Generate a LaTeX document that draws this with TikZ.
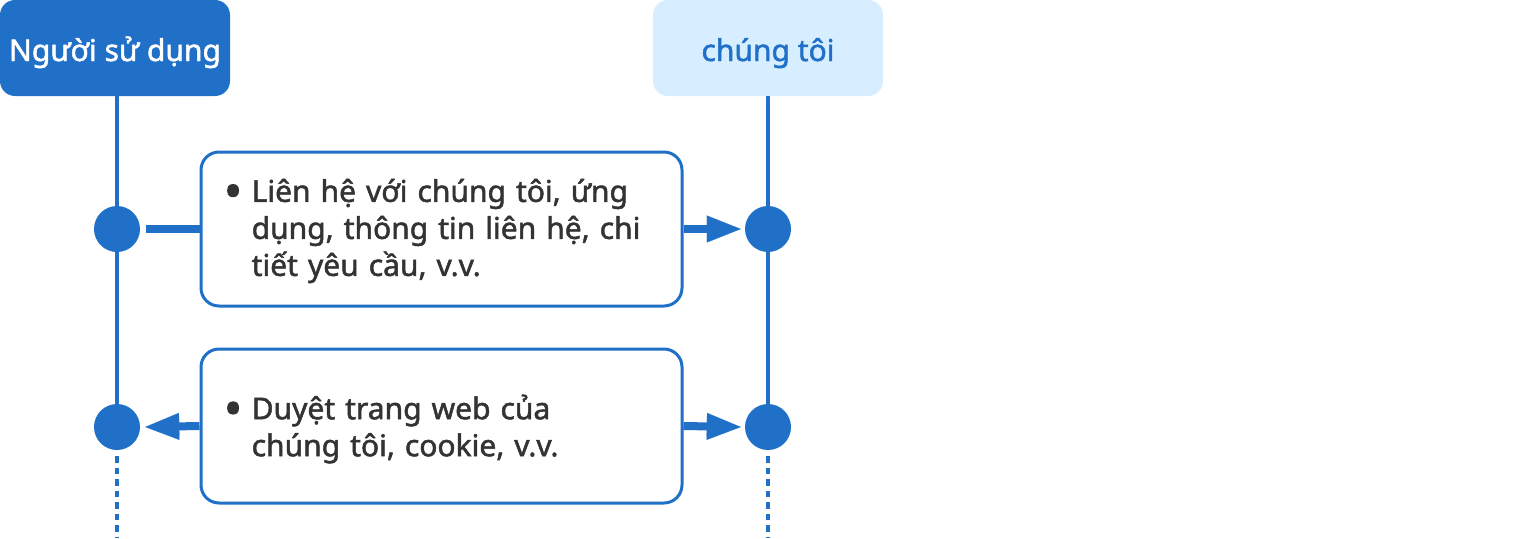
\documentclass[tikz,border=0pt]{standalone}
\usepackage{fontspec}
\setmainfont{Noto Sans}[RawFeature={embolden=1.6}]
\usetikzlibrary{arrows.meta}
\definecolor{mblue}{HTML}{2070C8}
\definecolor{lblue}{HTML}{D6EEFF}
\definecolor{tgray}{HTML}{333333}
\newcommand{\bul}{\makebox[28pt][l]{\raisebox{-7pt}{\fontsize{50}{37}\selectfont •}}}
\tikzset{
  hdr/.style={rectangle, rounded corners=15pt, minimum width=230pt, minimum height=96pt, inner sep=0pt, text height=26pt, text depth=0pt, font=\fontsize{30}{36}\selectfont},
  dotnode/.style={circle, fill=mblue, minimum size=46pt, inner sep=0pt},
  msg/.style={rectangle, draw=mblue, line width=3pt, rounded corners=18pt, fill=white, minimum width=481pt, minimum height=154pt, inner sep=0pt},
  txt/.style={inner sep=0pt, text width=450pt, text=tgray, font=\fontsize{30}{37}\selectfont},
  life/.style={draw=mblue, line width=3.5pt},
  lifedot/.style={draw=mblue, line width=3.5pt, dash pattern=on 6.5pt off 5pt},
  conn/.style={draw=mblue, line width=8pt},
  tip/.style={-{Triangle[length=34pt,width=27pt,line width=0.1pt]}}
}
\begin{document}
\begin{tikzpicture}[x=1pt,y=-1pt]
\useasboundingbox (0,0) rectangle (1536,538);
\node[hdr, fill=mblue, text=white] (u) at (115,48) {Người sử dụng};
\node[hdr, fill=lblue, text=mblue] (w) at (768,48) {chúng tôi};
\node[dotnode] (d1) at (117,229) {};
\node[dotnode] (d2) at (768,229) {};
\node[dotnode] (d3) at (117,427) {};
\node[dotnode] (d4) at (768,427) {};
\coordinate (e1) at (117,538);
\coordinate (e2) at (768,538);
% lifelines
\draw[life] (d1 |- u.south) -- (d1) -- (d3);
\draw[life] (d2 |- w.south) -- (d2) -- (d4);
\draw[lifedot] ([yshift=-6pt]d3.south) -- (e1);
\draw[lifedot] ([yshift=-6pt]d4.south) -- (e2);
% message boxes
\node[msg] (b1) at (441.5,229) {};
\node[msg] (b2) at (441.5,426) {};
\node[txt, anchor=west] (t1) at ([xshift=24pt,yshift=-2pt]b1.west) {\hangindent=28pt\hangafter=1\noindent\bul Liên hệ với chúng tôi, ứng\newline dụng, thông tin liên hệ, chi\newline tiết yêu cầu, v.v.\par};
\node[txt, anchor=west] (t2) at ([xshift=24pt,yshift=-3pt]b2.west) {\hangindent=28pt\hangafter=1\noindent\bul Duyệt trang web của\newline chúng tôi, cookie, v.v.\par};
% connectors
\draw[conn] ([xshift=6pt]d1.east) -- (b1.west);
\draw[conn, tip] (b1.east) -- ([xshift=-4pt]d2.west);
\draw[conn, tip] (b2.west) -- ([xshift=5pt]d3.east);
\draw[conn, tip] (b2.east) -- ([xshift=-4pt]d4.west);
\end{tikzpicture}
\end{document}
